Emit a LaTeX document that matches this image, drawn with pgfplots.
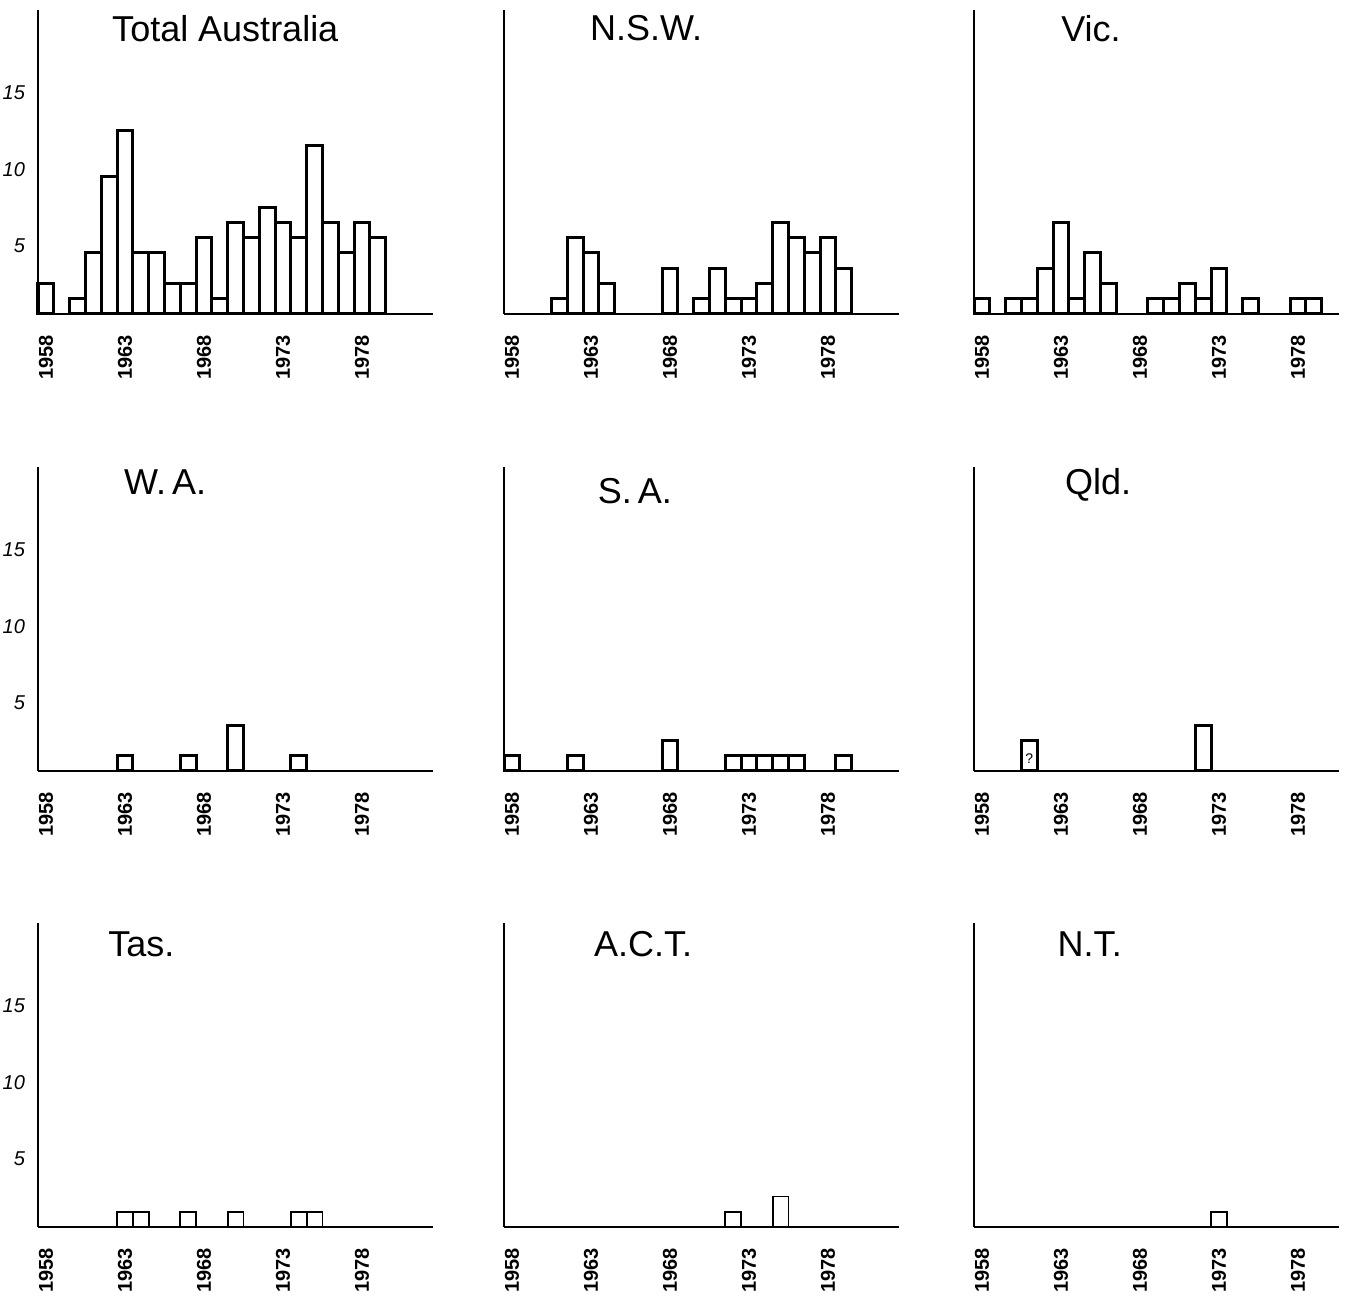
\documentclass[border=0pt]{standalone}
\usepackage{fontspec}
\setmainfont{Liberation Sans}
\usepackage{pgfplots}
\pgfplotsset{compat=1.18}
\pgfplotsset{
  panel/.style={
    scale only axis, anchor=south west,
    ybar, bar width=1,
    xmin=1957.5, xmax=1982.5, ymin=0, ymax=19.9,
    width=197.5pt, height=152pt,
    axis x line=bottom, axis y line=left,
    axis line style={-, line width=1.5pt},
    major tick length=0pt,
    xtick={1958,1963,1968,1973,1978},
    xticklabels={1958,1963,1968,1973,1978},
    xticklabel style={rotate=90, anchor=east, font=\bfseries\fontsize{10}{10}\selectfont},
    xticklabel shift=7pt,
    ytick=\empty,
    clip=false,
  },
  thin/.style={axis line style={-, line width=1pt}},
  ylab/.style={ytick={5,10,15}, yticklabels={5,10,15},
    yticklabel style={font=\itshape\fontsize{10}{10}\selectfont, yshift=-4pt}, yticklabel shift=3pt},
  narrow/.style={width=182.5pt, xmax=1980.6},
}
\tikzset{ttl/.style={anchor=west, font=\fontsize{18}{18}\selectfont},
  bk/.style={draw=black, fill=white, line width=1.5pt},
  bkthin/.style={draw=black, fill=white, line width=0.9pt}}
\begin{document}
\begin{tikzpicture}
\path[use as bounding box] (0,0) rectangle (677pt,649.5pt);
% Row 1
\begin{axis}[panel, ylab, at={(19pt,492.5pt)}]
\addplot[bk] coordinates {(1958,2)(1960,1)(1961,4)(1962,9)(1963,12)(1964,4)(1965,4)(1966,2)(1967,2)(1968,5)(1969,1)(1970,6)(1971,5)(1972,7)(1973,6)(1974,5)(1975,11)(1976,6)(1977,4)(1978,6)(1979,5)};
\node[ttl] at (rel axis cs:0.17,0.94) {Total Australia};
\end{axis}
\begin{axis}[panel, at={(252pt,492.5pt)}]
\addplot[bk] coordinates {(1961,1)(1962,5)(1963,4)(1964,2)(1968,3)(1970,1)(1971,3)(1972,1)(1973,1)(1974,2)(1975,6)(1976,5)(1977,4)(1978,5)(1979,3)};
\node[ttl] at (rel axis cs:0.2,0.94) {N.S.W.};
\end{axis}
\begin{axis}[panel, narrow, at={(487pt,492.5pt)}]
\addplot[bk] coordinates {(1958,1)(1960,1)(1961,1)(1962,3)(1963,6)(1964,1)(1965,4)(1966,2)(1969,1)(1970,1)(1971,2)(1972,1)(1973,3)(1975,1)(1978,1)(1979,1)};
\node[ttl] at (rel axis cs:0.22,0.94) {Vic.};
\end{axis}
% Row 2
\begin{axis}[panel, ylab, at={(19pt,264pt)}]
\addplot[bk] coordinates {(1963,1)(1967,1)(1970,3)(1974,1)};
\node[ttl] at (rel axis cs:0.2,0.95) {W.\,A.};
\end{axis}
\begin{axis}[panel, at={(252pt,264pt)}]
\addplot[bk] coordinates {(1958,1)(1962,1)(1968,2)(1972,1)(1973,1)(1974,1)(1975,1)(1976,1)(1979,1)};
\node[ttl] at (rel axis cs:0.22,0.92) {S.\,A.};
\end{axis}
\begin{axis}[panel, narrow, at={(487pt,264pt)}]
\addplot[bk] coordinates {(1961,2)(1972,3)};
\node[font=\scriptsize] at (axis cs:1961,0.8) {?};
\node[ttl] at (rel axis cs:0.23,0.94) {Qld.};
\end{axis}
% Row 3
\begin{axis}[panel, thin, ylab, at={(19pt,36pt)}]
\addplot[bkthin] coordinates {(1963,1)(1964,1)(1967,1)(1970,1)(1974,1)(1975,1)};
\node[ttl] at (rel axis cs:0.16,0.93) {Tas.};
\end{axis}
\begin{axis}[panel, thin, at={(252pt,36pt)}]
\addplot[bkthin] coordinates {(1972,1)(1975,2)};
\node[ttl] at (rel axis cs:0.21,0.93) {A.C.T.};
\end{axis}
\begin{axis}[panel, thin, narrow, at={(487pt,36pt)}]
\addplot[bkthin] coordinates {(1973,1)};
\node[ttl] at (rel axis cs:0.21,0.93) {N.T.};
\end{axis}
\end{tikzpicture}
\end{document}
